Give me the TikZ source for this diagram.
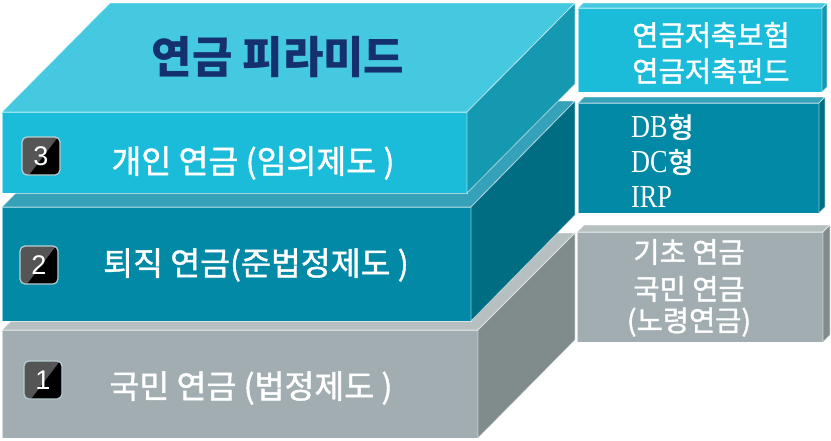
\documentclass[tikz,border=0pt]{standalone}
\usepackage{fontspec}
\setmainfont{Liberation Serif}
\newfontfamily\kr{Noto Sans CJK KR}
\newfontfamily\krm{Noto Sans CJK KR}[FakeBold=1.3]
\newfontfamily\serifc{Liberation Serif}[FakeStretch=0.82]
\newfontfamily\numfont{Liberation Sans}
\definecolor{lthreetop}{HTML}{44C9E0}
\definecolor{lthreefront}{HTML}{1BBCD9}
\definecolor{lthreeside}{HTML}{1599B1}
\definecolor{ltwotop}{HTML}{36A2B9}
\definecolor{ltwofront}{HTML}{0189A6}
\definecolor{ltwoside}{HTML}{006D82}
\definecolor{lonetop}{HTML}{B6C0C1}
\definecolor{lonefront}{HTML}{A1ADB0}
\definecolor{loneside}{HTML}{808B8B}
\definecolor{navy}{HTML}{14306E}
\definecolor{badgegray}{HTML}{555555}
\definecolor{badgeedge}{HTML}{B8D0D4}
\newcommand\mybadge[4]{%
  \begin{scope}[shift={(#1,#2)}]
    \fill[black,rounded corners=5pt] (-19,-19) rectangle (19,19);
    \begin{scope}
      \clip[rounded corners=5pt] (-19,-19) rectangle (19,19);
      \fill[badgegray] (-19,-19) -- (17,-19) -- (-12,19) -- (-19,19) -- cycle;
    \end{scope}
    \draw[badgeedge,line width=1.2pt,rounded corners=5pt] (-19,-19) rectangle (19,19);
    \node[numtxt] (#3) at (0,0) {#4};
  \end{scope}}
\begin{document}
\begin{tikzpicture}[x=1pt,y=-1pt,
  face/.style={draw=white,draw opacity=0.55,line width=0.8pt,line join=round},
  lbl/.style={text=white,font=\krm\fontsize{32.5}{34}\selectfont,inner sep=0pt},
  boxtxt/.style={text=white,font=\krm\fontsize{28.5}{30}\selectfont,inner sep=0pt},
  latintxt/.style={text=white,font=\serifc\fontsize{32}{34}\selectfont,inner sep=0pt,anchor=west},
  numtxt/.style={text=white,font=\numfont\fontsize{27}{28}\selectfont,inner sep=0pt},
  title/.style={text=navy,font=\kr\bfseries\fontsize{44}{46}\selectfont,inner sep=0pt}]
\useasboundingbox (0,0) rectangle (831,440);
% level 1
\fill[lonetop,face] (2,330) -- (100,233) -- (575,233) -- (478,330) -- cycle;
\fill[lonefront,face] (2,330) rectangle (478,438);
\fill[loneside,face] (478,330) -- (575,233) -- (575,340) -- (478,438) -- cycle;
% level 2
\fill[ltwotop,face] (2,207) -- (107,101) -- (575,101) -- (471,207) -- cycle;
\fill[ltwofront,face] (2,207) rectangle (471,321);
\fill[ltwoside,face] (471,207) -- (575,101) -- (575,215) -- (471,321) -- cycle;
% level 3
\fill[lthreetop,face] (2,112) -- (110,3) -- (575,3) -- (467,112) -- cycle;
\fill[lthreefront,face] (2,112) rectangle (467,193);
\fill[lthreeside,face] (467,112) -- (575,3) -- (575,84) -- (467,193) -- cycle;
% box A
\fill[lthreetop,face] (578,8) -- (583,3) -- (827,3) -- (822,8) -- cycle;
\fill[lthreefront,face] (578,8) rectangle (822,92);
\fill[lthreeside,face] (822,8) -- (827,3) -- (827,87) -- (822,92) -- cycle;
% box B
\fill[ltwotop,face] (578,103) -- (584,97) -- (825,97) -- (819,103) -- cycle;
\fill[ltwofront,face] (578,103) rectangle (819,213);
\fill[ltwoside,face] (819,103) -- (825,97) -- (825,207) -- (819,213) -- cycle;
% box C
\fill[lonetop,face] (577,232) -- (584,225) -- (830,225) -- (823,232) -- cycle;
\fill[lonefront,face] (577,232) rectangle (823,342);
\fill[loneside,face] (823,232) -- (830,225) -- (830,335) -- (823,342) -- cycle;
% texts
\node[title] (ttl) at (278,57) {연금 피라미드};
\node[lbl] (lab3) at (253,163) {개인 연금 (임의제도 )};
\node[lbl] (lab2) at (256,265) {퇴직 연금(준법정제도 )};
\node[lbl] (lab1) at (251,388) {국민 연금 (법정제도 )};
\mybadge{41}{156}{b3}{3}
\mybadge{39}{265}{b2}{2}
\mybadge{43}{380}{b1}{1}
\node[boxtxt] (a1) at (711,35) {연금저축보험};
\node[boxtxt] (a2) at (711,71) {연금저축펀드};
\node[latintxt] (bb1) at (631,127) {DB{\krm\fontsize{28.5}{30}\selectfont 형}};
\node[latintxt] (bb2) at (631,162) {DC{\krm\fontsize{28.5}{30}\selectfont 형}};
\node[latintxt] (bb3) at (631,197) {IRP};
\node[boxtxt] (c1) at (689,252) {기초 연금};
\node[boxtxt] (c2) at (689,289) {국민 연금};
\node[boxtxt] (c3) at (689,322) {(노령연금)};
\end{tikzpicture}
\end{document}
